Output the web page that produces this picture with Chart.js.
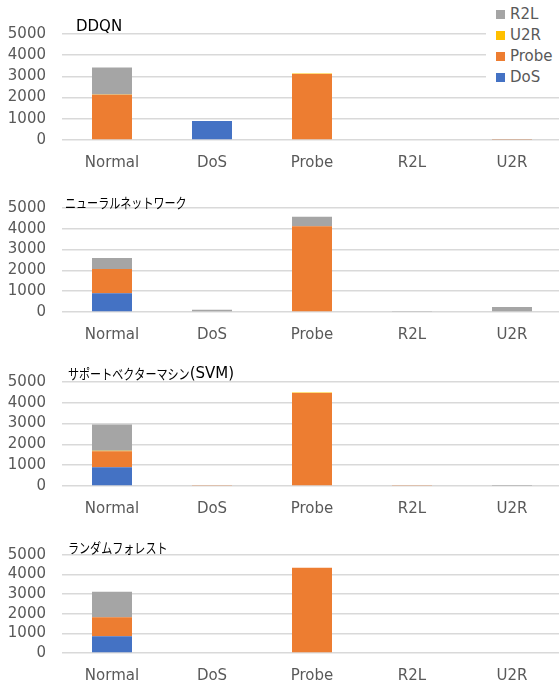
<!DOCTYPE html>
<html>
<head>
<meta charset="utf-8">
<script src="https://cdn.jsdelivr.net/npm/chart.js@4/dist/chart.umd.min.js"></script>
<style>
  html, body { margin: 0; padding: 0; background: #fff; overflow: hidden; }
  body { width: 559px; height: 686px; position: relative; }
  .panel { position: absolute; left: 0; width: 562px; }
  .legend { position: absolute; left: 486px; top: 0; width: 73px; height: 88px; background: #fff;
            font: 15px "DejaVu Sans", sans-serif; color: #595959; z-index: 2; }
  .legend div { position: absolute; left: 10px; height: 20px; line-height: 20px; white-space: nowrap; }
  .legend span { display: inline-block; width: 9px; height: 9px; margin-right: 5px; vertical-align: 0px; }
</style>
</head>
<body>
<div class="panel" id="p0" style="top:0;height:172px"><canvas id="c0"></canvas></div>
<div class="panel" id="p1" style="top:172px;height:172px"><canvas id="c1"></canvas></div>
<div class="panel" id="p2" style="top:345px;height:172px"><canvas id="c2"></canvas></div>
<div class="panel" id="p3" style="top:517px;height:169px"><canvas id="c3"></canvas></div>
<div class="legend" id="legend"></div>
<script>
// Actual traffic classes on the x axis
const categories = ['Normal', 'DoS', 'Probe', 'R2L', 'U2R'];
// Stacked series (bottom to top)
const seriesNames = ['DoS', 'Probe', 'U2R', 'R2L'];
const yTicks = [0, 1000, 2000, 3000, 4000, 5000];

// DDQN
const ddqnDoS   = [0, 893, 0, 0, 0];
const ddqnProbe = [2130, 0, 3110, 30, 20];
const ddqnU2R   = [20, 0, 25, 0, 0];
const ddqnR2L   = [1270, 0, 0, 0, 15];

// ニューラルネットワーク
const nnDoS   = [900, 0, 0, 0, 0];
const nnProbe = [1170, 0, 4120, 0, 0];
const nnU2R   = [0, 0, 0, 0, 0];
const nnR2L   = [530, 110, 460, 25, 240];

// サポートベクターマシン(SVM)
const svmDoS   = [900, 0, 0, 0, 0];
const svmProbe = [770, 25, 4470, 25, 0];
const svmU2R   = [30, 0, 30, 0, 0];
const svmR2L   = [1260, 0, 0, 0, 15];

// ランダムフォレスト
const rfDoS   = [853, 0, 0, 0, 0];
const rfProbe = [973, 0, 4350, 0, 0];
const rfU2R   = [0, 0, 0, 0, 0];
const rfR2L   = [1297, 0, 0, 0, 0];

const titles = ['DDQN', 'ニューラルネットワーク', 'サポートベクターマシン(SVM)', 'ランダムフォレスト'];

const colors = { DoS: '#4472C4', Probe: '#ED7D31', U2R: '#FFC000', R2L: '#A5A5A5' };
const tickFont = { family: '"DejaVu Sans", sans-serif', size: 15 };

const panels = [
  { data: [ddqnDoS, ddqnProbe, ddqnU2R, ddqnR2L], padTop: 34, plotH: 106, tx: 76, ty: 27 },
  { data: [nnDoS, nnProbe, nnU2R, nnR2L],         padTop: 36, plotH: 104, tx: 65, ty: 31 },
  { data: [svmDoS, svmProbe, svmU2R, svmR2L],     padTop: 37, plotH: 104, tx: 68, ty: 29 },
  { data: [rfDoS, rfProbe, rfU2R, rfR2L],         padTop: 38, plotH: 98,  tx: 68, ty: 31 }
];

// Draws the panel title; kana runs use a horizontally condensed face.
const panelTitle = {
  id: 'panelTitle',
  afterDraw(chart, args, opts) {
    const ctx = chart.ctx;
    ctx.save();
    ctx.fillStyle = '#000';
    ctx.textBaseline = 'middle';
    ctx.textAlign = 'left';
    const runs = opts.text.match(/[\u3000-\u30ff\u4e00-\u9fff]+|[^\u3000-\u30ff\u4e00-\u9fff]+/g) || [];
    let x = opts.x;
    runs.forEach(run => {
      const cjk = /[\u3000-\u30ff]/.test(run);
      const sx = cjk ? 0.79 : 1;
      ctx.font = cjk ? '14px "Noto Sans CJK JP"' : '15px "DejaVu Sans"';
      ctx.save();
      ctx.translate(x, opts.y);
      ctx.scale(sx, 1);
      ctx.fillText(run, 0, 0);
      ctx.restore();
      x += ctx.measureText(run).width * sx;
    });
    ctx.restore();
  }
};

panels.forEach((p, i) => {
  const holder = document.getElementById('p' + i);
  const H = holder.clientHeight;
  new Chart(document.getElementById('c' + i), {
    type: 'bar',
    data: {
      labels: categories,
      datasets: seriesNames.map((name, k) => ({
        label: name,
        data: p.data[k],
        backgroundColor: colors[name],
        borderWidth: 0,
        barPercentage: 0.4,
        categoryPercentage: 1.0
      }))
    },
    options: {
      responsive: true,
      maintainAspectRatio: false,
      animation: false,
      layout: { padding: { top: p.padTop, left: 0, right: 0, bottom: 0 } },
      plugins: {
        legend: { display: false },
        tooltip: { enabled: false },
        panelTitle: { text: titles[i], x: p.tx, y: p.ty }
      },
      scales: {
        x: {
          stacked: true,
          grid: { display: false, drawTicks: false },
          border: { display: false },
          ticks: { color: '#595959', font: tickFont, padding: 14, maxRotation: 0 },
          afterFit(scale) { scale.height = H - p.padTop - p.plotH; }
        },
        y: {
          stacked: true,
          min: 0,
          max: 5000,
          afterBuildTicks(scale) { scale.ticks = yTicks.map(v => ({ value: v })); },
          grid: { color: '#D9D9D9', lineWidth: 1.5, drawTicks: false },
          border: { display: false },
          ticks: { color: '#595959', font: tickFont, padding: 16, autoSkip: false,
                   callback: v => String(v) },
          afterFit(scale) { scale.width = 62; }
        }
      }
    },
    plugins: [panelTitle]
  });
});

// Legend for the first panel, listed top-down in reverse stacking order
const legend = document.getElementById('legend');
const rowY = [4, 25, 46, 67];
seriesNames.slice().reverse().forEach((name, k) => {
  const row = document.createElement('div');
  row.style.top = rowY[k] + 'px';
  const sw = document.createElement('span');
  sw.style.background = colors[name];
  row.appendChild(sw);
  row.appendChild(document.createTextNode(name));
  legend.appendChild(row);
});
</script>
</body>
</html>
